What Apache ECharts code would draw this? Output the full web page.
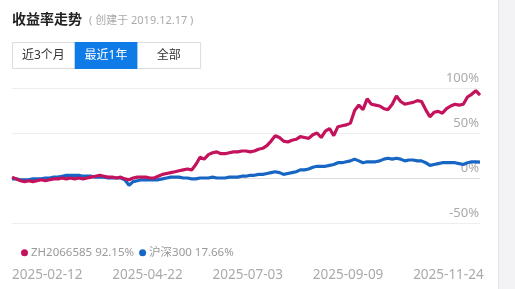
<!DOCTYPE html>
<html>
<head>
<meta charset="utf-8">
<script src="https://cdn.jsdelivr.net/npm/echarts@6/dist/echarts.min.js"></script>
<style>
html,body{margin:0;padding:0;background:#fff;}
#c{width:515px;height:289px;}
</style>
</head>
<body>
<div id="c"></div>
<script>
// ---- data ----
const seriesNames = ['ZH2066585', '沪深300'];
const zhValues = [1,-1,-3,-4,-3,-4,-3,-2,-3,-2,
  -1,-1,0,-1,0,-1,0,-1,0,1,
  2,3,2,1,1,0,1,-1,-2,0,
  1,1,1,0,0,2,4,5,6,7,
  8,9,10,9,15,23,21,26,28,29,
  27,27,28,29,29,30,30,29,30,32,
  33,36,41,47,45,41,40,42,43,46,
  45,44,48,50,45,52,55,47,57,58,
  59,61,75,81,76,88,82,81,80,77,
  76,82,91,85,82,83,84,86,85,76,
  68,73,74,72,77,80,82,81,82,90,
  93,97,92.15];
const hsValues = [-1,-1,-2,-2,-2,-1,-1,-1,0,0,
  1,1,2,3,3,3,3,2,2,2,
  1,1,1,0,0,0,0,-2,-8,-4,
  -3,-2,-2,-2,-2,-2,-1,0,1,1,
  1,0,0,-1,-1,0,0,0,1,0,
  0,0,1,1,1,2,2,3,3,4,
  4,5,6,7,6,4,5,6,7,9,
  9,10,12,13,13,13,14,15,17,17,
  18,19,21,19,17,18,18,18,19,21,
  22,21,22,21,19,20,20,19,19,17,
  14,15,16,17,17,17,17,16,15,17,
  18,18,17.66];
const startDate = '2025-02-12';
const holidays = ['2025-04-04','2025-05-01','2025-05-02','2025-05-05','2025-06-02',
  '2025-10-01','2025-10-02','2025-10-03','2025-10-06','2025-10-07','2025-10-08',
  '2026-01-01','2026-01-02'];
const yTicks = [-100, -50, 0, 50, 100];
const buttons = ['近3个月', '最近1年', '全部'];
const title = '收益率走势';
const subtitle = '( 创建于 2019.12.17 )';

// categories: every second trading day from startDate
function buildDates(start, count, step) {
  const out = [];
  const d = new Date(start + 'T00:00:00Z');
  let k = 0;
  while (out.length < count) {
    const s = d.toISOString().slice(0, 10);
    const wd = d.getUTCDay();
    if (wd !== 0 && wd !== 6 && holidays.indexOf(s) < 0) {
      if (k % step === 0) out.push(s);
      k++;
    }
    d.setUTCDate(d.getUTCDate() + 1);
  }
  return out;
}
const dates = buildDates(startDate, zhValues.length, 2);

const FONT = '"Noto Sans", "Noto Sans CJK SC", sans-serif';
const chart = echarts.init(document.getElementById('c'), null, {renderer: 'canvas'});
const lastOf = {};
lastOf[seriesNames[0]] = zhValues[zhValues.length - 1];
lastOf[seriesNames[1]] = hsValues[hsValues.length - 1];

const btnX = 12, btnY = 42, btnW = 62.7, btnH = 26;
const graphics = [
  {type: 'rect', shape: {x: 498, y: 0, width: 17, height: 289}, style: {fill: '#f3f3f6'}, silent: true},
  {type: 'line', shape: {x1: 498.5, y1: 0, x2: 498.5, y2: 289}, style: {stroke: '#e6e6ea', lineWidth: 1}, silent: true},
  {type: 'text', left: 12, top: 13, style: {text: title, font: 'bold 14px ' + FONT, fill: '#222'}},
  {type: 'text', left: 89, top: 15, style: {text: subtitle, font: '11px ' + FONT, fill: '#aaa'}},
  {type: 'rect', shape: {x: btnX + 0.5, y: btnY + 0.5, width: btnW * 3, height: btnH}, style: {fill: '#fff', stroke: '#dcdcdc', lineWidth: 1}},
  {type: 'rect', shape: {x: btnX + btnW, y: btnY, width: btnW, height: btnH + 1}, style: {fill: '#0f7be6'}}
];
buttons.forEach(function (b, i) {
  graphics.push({type: 'text', x: btnX + btnW * i + btnW / 2, y: btnY + btnH / 2 + 0.5,
    style: {text: b, font: '12px ' + FONT, fill: i === 1 ? '#fff' : '#333', textAlign: 'center', textVerticalAlign: 'middle'}});
});

chart.setOption({
  animation: false,
  grid: {left: 12, right: 35, top: 88, bottom: 21},
  legend: {
    data: seriesNames, left: 16, top: 242, icon: 'circle', itemWidth: 7, itemHeight: 7, itemGap: 5,
    textStyle: {color: '#999', fontSize: 11.5, fontFamily: FONT, padding: [0, 0, 0, -2]},
    formatter: function (n) { return n + ' ' + lastOf[n].toFixed(2) + '%'; }
  },
  xAxis: {
    type: 'category', data: dates, boundaryGap: false, offset: -6,
    axisLine: {show: true, lineStyle: {color: '#dddddd'}},
    axisTick: {show: false},
    axisLabel: {interval: function (i) { return i % 24 === 0; }, align: 'left', color: '#aaa', fontSize: 13.5, fontFamily: FONT, margin: 6, hideOverlap: false},
    splitLine: {show: false}
  },
  yAxis: {
    type: 'value', position: 'right', min: yTicks[0], max: yTicks[yTicks.length - 1], interval: 50,
    axisLine: {show: false}, axisTick: {show: false},
    axisLabel: {inside: true, margin: 1, color: '#aaa', fontSize: 13, fontFamily: FONT, verticalAlign: 'bottom', padding: [0, 0, 3, 0],
      formatter: function (v) { return v === yTicks[0] ? '' : v + '%'; }},
    splitLine: {show: true, lineStyle: {color: ['rgba(0,0,0,0)', '#eeeeee', '#eeeeee', '#eeeeee', '#eeeeee'], width: 1}}
  },
  series: [
    {name: seriesNames[1], type: 'line', data: hsValues, showSymbol: false, symbol: 'circle', z: 2,
      itemStyle: {color: '#1766c3'}, lineStyle: {color: '#1766c3', width: 3.2}},
    {name: seriesNames[0], type: 'line', data: zhValues, showSymbol: false, symbol: 'circle', z: 3,
      itemStyle: {color: '#c4125c'}, lineStyle: {color: '#c4125c', width: 3.2}}
  ],
  graphic: graphics
});
</script>
</body>
</html>
